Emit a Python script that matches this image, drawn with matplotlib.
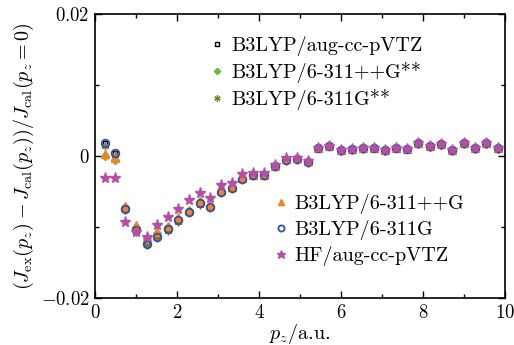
import matplotlib
matplotlib.use("Agg")
import matplotlib.pyplot as plt
import numpy as np

plt.rcParams['font.family'] = 'serif'
plt.rcParams['font.serif'] = ['cmr10']
plt.rcParams['mathtext.fontset'] = 'cm'
plt.rcParams['axes.formatter.use_mathtext'] = True
plt.rcParams['axes.unicode_minus'] = True

pz = [0.23, 0.49, 0.74, 0.99, 1.26, 1.52, 1.77, 2.03, 2.29, 2.55, 2.81, 3.08, 3.33,
      3.59, 3.85, 4.11, 4.40, 4.66, 4.92, 5.19, 5.45, 5.71, 5.99, 6.26, 6.53, 6.80,
      7.07, 7.33, 7.60, 7.88, 8.16, 8.44, 8.71, 8.99, 9.27, 9.54, 9.82]

b3lyp_631g = [0.0019, 0.0005, -0.0074, -0.0104, -0.0123, -0.0113, -0.0103, -0.0090,
              -0.0078, -0.0066, -0.0071, -0.0050, -0.0045, -0.0032, -0.0027, -0.0027,
              -0.0014, -0.0005, -0.0004, -0.0008, 0.0012, 0.0015, 0.0009, 0.0010,
              0.0011, 0.0012, 0.0009, 0.0012, 0.00105, 0.0018, 0.0014, 0.0017, 0.0009,
              0.0018, 0.0011, 0.0018, 0.0011]
b3lyp_aug = [0.0018, 0.0005, -0.0073, -0.0103, -0.0122, -0.0112, -0.0102, -0.0089,
             -0.0077, -0.0065, -0.0070, -0.0049, -0.0044, -0.0031, -0.0026, -0.0026,
             -0.0013, -0.0004, -0.0003, -0.0007, 0.0012, 0.0015, 0.0009, 0.0010,
             0.0011, 0.0012, 0.0009, 0.0012, 0.00105, 0.0018, 0.0014, 0.0017, 0.0009,
             0.0018, 0.0011, 0.0018, 0.0011]
b3lyp_631gss = [0.0015, 0.0002, -0.0076, -0.0106, -0.0125, -0.0115, -0.0105, -0.0092,
                -0.0080, -0.0068, -0.0073, -0.0052, -0.0046, -0.0033, -0.0028, -0.0028,
                -0.0015, -0.0006, -0.0005, -0.0009, 0.0011, 0.0014, 0.0008, 0.0009,
                0.0010, 0.0011, 0.0008, 0.0011, 0.0010, 0.0017, 0.0013, 0.0016, 0.0008,
                0.0017, 0.0010, 0.0017, 0.0010]
b3lyp_ppg = [0.0003, -0.0003, -0.0070, -0.0097, -0.0113, -0.0106, -0.0098, -0.0086,
             -0.0075, -0.0063, -0.0069, -0.0048, -0.0043, -0.0031, -0.0026, -0.0026,
             -0.0013, -0.0004, -0.0003, -0.0007, 0.0012, 0.0015, 0.0009, 0.0010,
             0.0011, 0.0012, 0.0009, 0.0012, 0.00105, 0.0018, 0.0014, 0.0017, 0.0009,
             0.0018, 0.0011, 0.0018, 0.0011]
b3lyp_ppgss = [0.0000, -0.0005, -0.0072, -0.0099, -0.0115, -0.0108, -0.0100, -0.0088,
               -0.0077, -0.0065, -0.0071, -0.0050, -0.0044, -0.0032, -0.0027, -0.0027,
               -0.0014, -0.0005, -0.0004, -0.0008, 0.0011, 0.0014, 0.0008, 0.0009,
               0.0010, 0.0011, 0.0008, 0.0011, 0.0010, 0.0017, 0.0013, 0.0016, 0.0008,
               0.0017, 0.0010, 0.0017, 0.0010]
hf_aug = [-0.0030, -0.0031, -0.0093, -0.0107, -0.0114, -0.0097, -0.0085, -0.0074,
          -0.0061, -0.0051, -0.0059, -0.0041, -0.0037, -0.0025, -0.0023, -0.0023,
          -0.0012, -0.0002, -0.0003, -0.0007, 0.0012, 0.0015, 0.0009, 0.0010,
          0.0011, 0.0012, 0.0009, 0.0012, 0.00105, 0.0018, 0.0014, 0.0017, 0.0009,
          0.0018, 0.0011, 0.0018, 0.0011]

fs = 14.5
tfs = 13.5

fig = plt.figure(figsize=(5.14, 3.45), dpi=100)
ax = fig.add_axes([0.185, 0.135, 0.7975, 0.824])

ms = 4.5
h_sq, = ax.plot(pz, b3lyp_aug, ls='none', marker='s', ms=ms-1, mfc='none', mec='black', mew=1.0)
h_di, = ax.plot(pz, b3lyp_ppgss, ls='none', marker='D', ms=ms-0.5, mfc='#5cc03c', mec='#5cc03c')
h_as, = ax.plot(pz, b3lyp_631gss, ls='none', marker=(6, 2, 0), ms=ms+1, mec='#7f7f2a', mew=1.0)
h_tr, = ax.plot(pz, b3lyp_ppg, ls='none', marker='^', ms=ms+1.5, mfc='#f58220', mec='#f58220')
h_ci, = ax.plot(pz, b3lyp_631g, ls='none', marker='o', ms=ms+1, mfc='none', mec='#2f4fa8', mew=1.3)
h_st, = ax.plot(pz, hf_aug, ls='none', marker='*', ms=ms+3.5, mfc='#b64fa3', mec='#b64fa3')

ax.set_xlim(0, 10)
ax.set_ylim(-0.02, 0.02)
ax.set_xticks([0, 2, 4, 6, 8, 10])
ax.set_xticks([1, 3, 5, 7, 9], minor=True)
ax.set_yticks([-0.02, 0, 0.02])
ax.set_yticklabels(['$-0.02$', '$0$', '$0.02$'])
ax.set_yticks([-0.01, 0.01], minor=True)
ax.tick_params(which='both', direction='in', top=True, right=True, labelsize=tfs)
ax.tick_params(which='major', length=5, width=1, pad=4)
ax.tick_params(which='minor', length=3, width=1)
for s in ax.spines.values():
    s.set_linewidth(1.2)

ax.set_xlabel('$p_z$/a.u.', fontsize=fs, labelpad=0)
ax.set_ylabel(r'$(J_{\rm ex}(p_z)-J_{\rm cal}(p_z))/J_{\rm cal}(p_z=0)$', fontsize=fs, labelpad=3)

common = dict(loc='upper left', frameon=False, fontsize=fs, handlelength=0.6,
              handletextpad=0.4, labelspacing=0.3, borderaxespad=0, borderpad=0,
              markerscale=0.8)
leg1 = ax.legend([h_sq, h_di, h_as],
                 ['B3LYP/aug-cc-pVTZ', 'B3LYP/6-311++G**', 'B3LYP/6-311G**'],
                 bbox_to_anchor=(0.283, 0.923), **common)
ax.add_artist(leg1)
ax.legend([h_tr, h_ci, h_st],
          ['B3LYP/6-311++G', 'B3LYP/6-311G', 'HF/aug-cc-pVTZ'],
          bbox_to_anchor=(0.438, 0.367), **common)

fig.savefig('out.png', dpi=100)
